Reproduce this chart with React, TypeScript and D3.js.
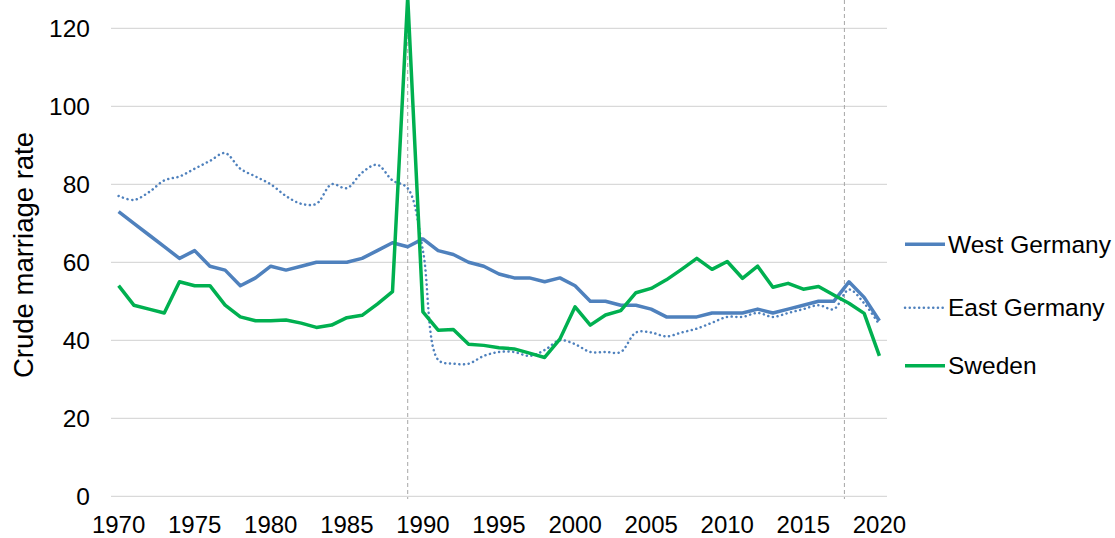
import React from "react";
import * as d3 from "d3";

const years: number[] = d3.range(1970, 2021);

const westGermany: number[] = [
  73, 70, 67, 64, 61, 63, 59, 58, 54, 56,
  59, 58, 59, 60, 60, 60, 61, 63, 65, 64,
  66, 63, 62, 60, 59, 57, 56, 56, 55, 56,
  54, 50, 50, 49, 49, 48, 46, 46, 46, 47,
  47, 47, 48, 47, 48, 49, 50, 50, 55, 51,
  45,
];

const eastGermany: number[] = [
  77, 76, 78, 81, 82, 84, 86, 88, 84, 82,
  80, 77, 75, 75, 80, 79, 83, 85, 81, 79,
  63, 35, 34, 34, 36, 37, 37, 36, 37.5, 40,
  39, 37, 37, 37, 42, 42, 41, 42, 43, 44.5,
  46, 46, 47, 46, 47, 48, 49, 48, 53, 49.5,
  44,
];

const sweden: number[] = [
  54, 49, 48, 47, 55, 54, 54, 49, 46, 45,
  45, 45.2, 44.4, 43.3, 43.9, 45.8, 46.4, 49.3, 52.5, 128,
  47.3, 42.6, 42.8, 39, 38.7, 38.1, 37.8, 36.7, 35.6, 40.3,
  48.6, 43.9, 46.5, 47.6, 52.2, 53.3, 55.5, 58.2, 61, 58.2,
  60.2, 55.9, 59, 53.6, 54.6, 53.1, 53.8, 51.6, 49.5, 46.9,
  36,
];

const yTicks: number[] = [0, 20, 40, 60, 80, 100, 120];
const xTicks: number[] = [1970, 1975, 1980, 1985, 1990, 1995, 2000, 2005, 2010, 2015, 2020];
const markerYears: number[] = [1989, 2017.7];

const seriesNames = ["West Germany", "East Germany", "Sweden"];

const BLUE = "#4f81bd";
const GREEN = "#00b050";
const FONT = "'Liberation Sans', Arial, sans-serif";

export default function App() {
  const width = 1115;
  const height = 538;
  const left = 111;
  const right = 887;

  const x = d3.scaleLinear().domain([1969.5, 2020.5]).range([left, right]);
  const y = d3.scaleLinear().domain([0, 120]).range([496.3, 28.3]);

  const linePath = (vals: number[], curve: d3.CurveFactory) =>
    d3
      .line<number>()
      .x((_, i) => x(years[i]))
      .y((v) => y(v))
      .curve(curve)(vals) || "";

  const series = [
    { name: seriesNames[0], vals: westGermany, color: BLUE, w: 3.5, dash: undefined as string | undefined, curve: d3.curveLinear, cap: "butt" },
    { name: seriesNames[1], vals: eastGermany, color: BLUE, w: 2.5, dash: "0.1 4.6", curve: d3.curveCatmullRom.alpha(0.5), cap: "round" },
    { name: seriesNames[2], vals: sweden, color: GREEN, w: 3.5, dash: undefined, curve: d3.curveLinear, cap: "butt" },
  ];

  const legendY = [244.3, 307.7, 365.7];

  return (
    <svg
      width={width}
      height={height}
      style={{ position: "absolute", left: 0, top: 0, background: "#fff" }}
      fontFamily={FONT}
    >
      {yTicks.map((t) => (
        <g key={t}>
          <line x1={left} x2={right} y1={y(t)} y2={y(t)} stroke="#d9d9d9" strokeWidth={1.3} />
          <text x={90} y={y(t)} dy="0.35em" textAnchor="end" fontSize={24.5} fill="#000">
            {t}
          </text>
        </g>
      ))}
      {xTicks.map((t) => (
        <text key={t} x={x(t)} y={532.5} textAnchor="middle" fontSize={24} fill="#000">
          {t}
        </text>
      ))}
      {markerYears.map((m) => (
        <line
          key={m}
          x1={x(m)}
          x2={x(m)}
          y1={0}
          y2={499}
          stroke="#a6a6a6"
          strokeWidth={1}
          strokeDasharray="4 3"
        />
      ))}
      {series.map((s) => (
        <path
          key={s.name}
          d={linePath(s.vals, s.curve)}
          fill="none"
          stroke={s.color}
          strokeWidth={s.w}
          strokeDasharray={s.dash}
          strokeLinecap={s.cap as any}
          strokeLinejoin="round"
        />
      ))}
      <text
        transform={`translate(33,255) rotate(-90)`}
        textAnchor="middle"
        fontSize={27.5}
        fill="#000"
      >
        Crude marriage rate
      </text>
      {series.map((s, i) => (
        <g key={s.name}>
          <line
            x1={905}
            x2={945}
            y1={legendY[i]}
            y2={legendY[i]}
            stroke={s.color}
            strokeWidth={s.w}
            strokeDasharray={s.dash}
            strokeLinecap={s.cap as any}
          />
          <text x={948} y={legendY[i]} dy="0.35em" fontSize={24.5} fill="#000">
            {s.name}
          </text>
        </g>
      ))}
    </svg>
  );
}
